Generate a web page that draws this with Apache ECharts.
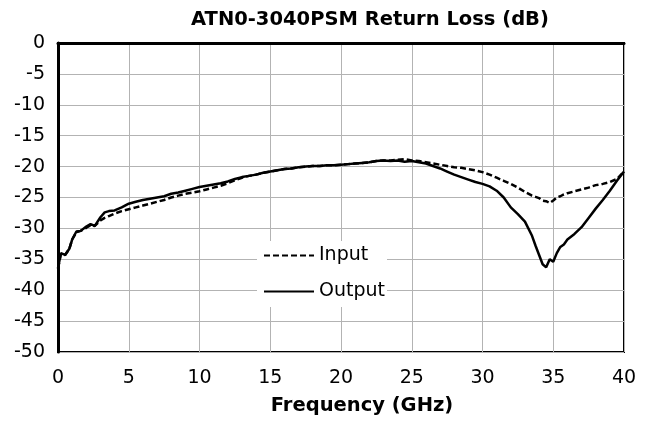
<!DOCTYPE html>
<html>
<head>
<meta charset="utf-8">
<script src="https://cdn.jsdelivr.net/npm/echarts@6/dist/echarts.min.js"></script>
<style>
  html, body { margin: 0; padding: 0; background: #fff; }
  #chart { width: 654px; height: 421px; }
</style>
</head>
<body>
<div id="chart"></div>
<script>
// 频率 (GHz)
const freq = [
  0, 0.2, 0.5, 0.8, 1.0, 1.3, 1.6, 2.0, 2.3, 2.6, 3.0, 3.3, 3.6, 4.0,
  4.5, 5, 5.5, 6, 6.5, 7, 7.5, 8, 8.5, 9, 9.5, 10,
  10.5, 11, 11.5, 12, 12.5, 13, 13.5, 14, 14.5, 15, 15.5, 16, 16.5, 17, 17.5, 18, 18.5, 19, 19.5, 20,
  20.5, 21, 21.5, 22, 22.5, 23, 23.5, 24, 24.5, 25, 25.5, 26, 26.5, 27, 27.5, 28, 28.5, 29, 29.5, 30,
  30.5, 31, 31.5, 32, 32.5, 33, 33.5,
  33.75, 34, 34.25, 34.5, 34.75, 35, 35.25, 35.5, 35.75, 36,
  36.5, 37, 37.5, 38, 38.5, 39, 39.5, 40
];
// Input return loss (dB)
const inputLoss = [
  -36.5, -34.2, -34.3, -33.3, -31.8, -30.6, -30.4, -29.9, -29.5, -29.6, -28.7, -28.3, -28.0, -27.6,
  -27.2, -26.9, -26.6, -26.3, -26.0, -25.7, -25.4, -25.0, -24.7, -24.4, -24.2, -24.0,
  -23.7, -23.4, -23.1, -22.7, -22.2, -21.8, -21.5, -21.3, -21.0, -20.8, -20.6, -20.4, -20.3, -20.1, -20.0, -19.9, -19.9, -19.8, -19.8, -19.7,
  -19.6, -19.5, -19.4, -19.3, -19.1, -19.0, -19.0, -18.9, -18.8, -19.0, -19.1, -19.3, -19.5, -19.7, -19.9, -20.1, -20.2, -20.4, -20.6, -20.9,
  -21.3, -21.8, -22.3, -22.8, -23.4, -24.1, -24.7,
  -24.9, -25.1, -25.5, -25.6, -25.9, -25.5, -25.0, -24.8, -24.5, -24.3,
  -24.0, -23.7, -23.4, -23.0, -22.8, -22.5, -22.0, -20.8
];
// Output return loss (dB)
const outputLoss = [
  -36.5, -34.0, -34.3, -33.3, -31.8, -30.5, -30.4, -29.7, -29.3, -29.6, -28.2, -27.4, -27.2, -27.1,
  -26.6, -26.0, -25.7, -25.4, -25.2, -25.0, -24.8, -24.4, -24.2, -23.9, -23.6, -23.3,
  -23.1, -22.9, -22.7, -22.4, -22.0, -21.7, -21.5, -21.3, -21.0, -20.8, -20.6, -20.4, -20.3, -20.1, -20.0, -19.9, -19.9, -19.8, -19.8, -19.7,
  -19.6, -19.5, -19.4, -19.3, -19.1, -19.0, -19.1, -19.0, -19.2, -19.1, -19.3, -19.5, -19.9, -20.3, -20.8, -21.3, -21.7, -22.1, -22.5, -22.8,
  -23.2, -23.9, -25.0, -26.6, -27.7, -28.9, -31.2,
  -32.8, -34.3, -35.8, -36.3, -35.0, -35.4, -34.0, -33.0, -32.6, -31.8,
  -30.9, -29.8, -28.3, -26.8, -25.4, -23.9, -22.3, -20.8
];

const font = "DejaVu Sans";
const myChart = echarts.init(document.getElementById("chart"));

const option = {
  animation: false,
  backgroundColor: "#fff",
  title: {
    text: "ATN0-3040PSM Return Loss (dB)",
    left: 186,
    top: 5,
    textStyle: { fontFamily: font, fontSize: 19.5, fontWeight: "bold", color: "#000" },
  },
  grid: {
    left: 58,
    right: 30,
    top: 43,
    bottom: 69,
    show: true,
    borderColor: "#000",
    borderWidth: 2,
  },
  legend: {
    orient: "vertical",
    left: 257,
    top: 241,
    backgroundColor: "#fff",
    padding: [5, 2, 6, 6],
    itemGap: 17,
    itemWidth: 50,
    itemHeight: 14,
    itemStyle: { opacity: 0 },
    textStyle: { fontFamily: font, fontSize: 19, color: "#000" },
    data: ["Input", "Output"],
  },
  xAxis: {
    type: "value",
    min: 0,
    max: 40,
    interval: 5,
    name: "Frequency (GHz)",
    nameLocation: "middle",
    nameGap: 44,
    nameTextStyle: { fontFamily: font, fontSize: 19.5, fontWeight: "bold", color: "#000", padding: [0, 0, 0, 42] },
    axisLine: { lineStyle: { color: "#000", width: 3 } },
    axisTick: { show: false },
    axisLabel: { fontFamily: font, fontSize: 19, color: "#000", margin: 17 },
    splitLine: { show: true, lineStyle: { color: "#b3b3b3", width: 1 } },
  },
  yAxis: {
    type: "value",
    min: -50,
    max: 0,
    interval: 5,
    axisLine: { onZero: false, lineStyle: { color: "#000", width: 3 } },
    axisTick: { show: false },
    axisLabel: { fontFamily: font, fontSize: 19, color: "#000", margin: 13 },
    splitLine: { show: true, lineStyle: { color: "#b3b3b3", width: 1 } },
  },
  series: [
    {
      name: "Input",
      type: "line",
      symbol: "none",
      data: freq.map((f, i) => [f, inputLoss[i]]),
      lineStyle: { color: "#000", width: 2.5, type: [6, 3] },
      itemStyle: { color: "#000" },
      z: 3,
    },
    {
      name: "Output",
      type: "line",
      symbol: "none",
      data: freq.map((f, i) => [f, outputLoss[i]]),
      lineStyle: { color: "#000", width: 2.5 },
      itemStyle: { color: "#000" },
      z: 2,
    },
  ],
};

myChart.setOption(option);
</script>
</body>
</html>
